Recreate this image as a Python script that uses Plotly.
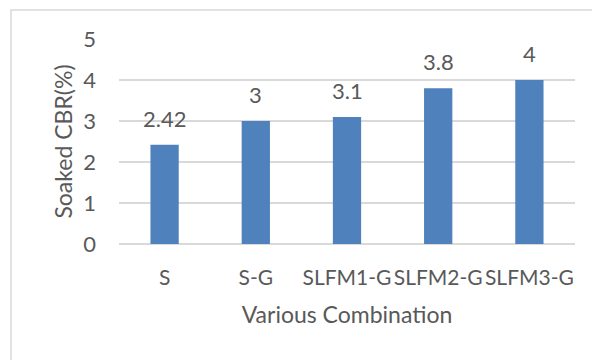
import plotly.graph_objects as go

# Soaked CBR for each soil / geogrid combination
combinations = ["S", "S-G", "SLFM1-G", "SLFM2-G", "SLFM3-G"]
cbr_values = [2.42, 3, 3.1, 3.8, 4]
value_labels = ["2.42", "3", "3.1", "3.8", "4"]
y_ticks = [0, 1, 2, 3, 4, 5]

FONT = "Lato"
TEXT = "#595959"
BAR = "#4F81BD"
GRID = "#D9D9D9"

W, H = 592, 360
ML, MR, MT, MB = 119, 17, 39, 116
pw, ph = W - ML - MR, H - MT - MB

fig = go.Figure(
    go.Bar(
        x=combinations,
        y=cbr_values,
        width=0.31,
        marker=dict(color=BAR, line=dict(width=0)),
        hoverinfo="x+y",
    )
)

# value labels above each bar
for cat, val, lab in zip(combinations, cbr_values, value_labels):
    fig.add_annotation(
        x=cat, y=val, text=lab, showarrow=False,
        xanchor="center", yanchor="bottom", yshift=11,
        font=dict(family=FONT, size=22, color=TEXT),
    )

# chart-area frame
def px_x(p):
    return (p - ML) / pw

def px_y(p):
    return 1 - (p - MT) / ph

fig.add_shape(
    type="rect", xref="paper", yref="paper",
    x0=px_x(11), x1=px_x(620), y0=px_y(390), y1=px_y(10),
    line=dict(color=GRID, width=1.5), fillcolor="rgba(0,0,0,0)", layer="below",
)

fig.update_layout(
    width=W, height=H,
    margin=dict(l=ML, r=MR, t=MT, b=MB, pad=0),
    paper_bgcolor="white", plot_bgcolor="white",
    showlegend=False,
    font=dict(family=FONT, size=22, color=TEXT),
    bargap=0.69,
)

fig.update_xaxes(
    showgrid=False, zeroline=False, showline=False, ticks="",
    tickfont=dict(family=FONT, size=21, color=TEXT),
    ticklabelstandoff=19,
    title=dict(text="Various Combination", standoff=18,
               font=dict(family=FONT, size=23, color=TEXT)),
)

fig.update_yaxes(
    range=[0, 5], tickvals=y_ticks, ticktext=[str(t) for t in y_ticks],
    showgrid=True, gridcolor=GRID, gridwidth=1.5,
    zeroline=True, zerolinecolor=GRID, zerolinewidth=1.5,
    showline=False, ticks="",
    tickfont=dict(family=FONT, size=22, color=TEXT),
    ticklabelstandoff=22,
    title=dict(text="Soaked CBR(%)", standoff=4,
               font=dict(family=FONT, size=23, color=TEXT)),
)

fig.write_html("out.html")
